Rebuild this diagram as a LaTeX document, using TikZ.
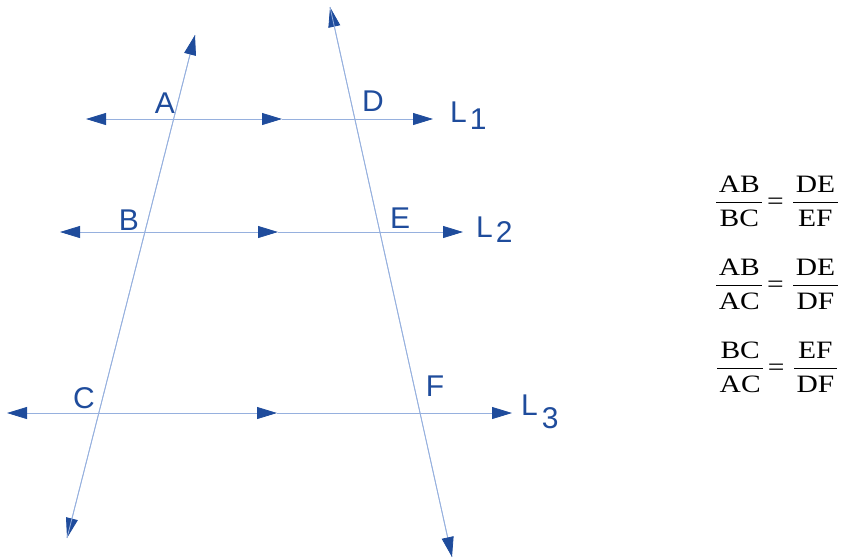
\RequirePackage{fix-cm}
\documentclass[tikz,border=0pt]{standalone}
\usepackage{amsmath}
\usepackage{fontspec}
\setmainfont{Liberation Sans}
\newfontfamily\eqfont{Liberation Serif}
\usetikzlibrary{arrows.meta}
\definecolor{linecol}{RGB}{150,176,222}
\definecolor{tipcol}{RGB}{31,76,156}
\newcommand{\ratio}[2]{\genfrac{}{}{1.1pt}{0}{\mkern1.5mu\text{#1}\mkern1.5mu}{\mkern1.5mu\text{#2}\mkern1.5mu}}

\begin{document}
\begin{tikzpicture}[
    x=1pt, y=-1pt,
    every node/.style={inner sep=0pt},
    line/.style={linecol, line width=0.8pt},
    tip/.style={-{Triangle[length=20pt,width=12pt,color=tipcol]}},
    both/.style={{Triangle[length=20pt,width=12pt,color=tipcol]}-{Triangle[length=20pt,width=12pt,color=tipcol]}},
    pt/.style={tipcol, font=\fontsize{30}{36}\selectfont},
    eqn/.style={anchor=base, font=\eqfont\fontsize{25}{30}\selectfont}
]
\useasboundingbox (0,0) rectangle (845,558);

% Parallel lines L1, L2, L3
\foreach \n/\y/\l/\m/\r in {1/119/86/282/433, 2/232/60/278/463, 3/413/7/277/512} {
    \coordinate (left\n) at (\l,\y);
    \coordinate (mid\n) at (\m,\y);
    \coordinate (right\n) at (\r,\y);
    \draw[line, both] (left\n) -- (mid\n);
    \draw[line, tip] (mid\n) -- (right\n);
}

% Transversals
\coordinate (t1bot) at (67,538);
\coordinate (t1top) at (195,35);
\coordinate (t2top) at (330,7);
\coordinate (t2bot) at (452,557);
\draw[line, tip] (t1top) -- (t1bot);
\draw[line, tip] (t1bot) -- (t1top);
\draw[line, tip] (t2bot) -- (t2top);
\draw[line, tip] (t2top) -- (t2bot);

% Point labels
\node[pt] (A) at (165,103) {A};
\node[pt] (D) at (373,101) {D};
\node[pt] (B) at (129,220) {B};
\node[pt] (E) at (400,218) {E};
\node[pt] (C) at (84,398) {C};
\node[pt] (F) at (435,386) {F};

% Line labels
\node[pt, anchor=base west] (L1) at (450,122) {L\hspace{3pt}\raisebox{-7pt}{1}};
\node[pt, anchor=base west] (L2) at (476,237) {L\hspace{3pt}\raisebox{-5pt}{2}};
\node[pt, anchor=base west] (L3) at (521,415) {L\hspace{4pt}\raisebox{-13pt}{3}};

% Ratios
\node[eqn] (eq1) at (777,209) {\scalebox{1.18}[1]{$\ratio{AB}{BC}\mkern-3mu\mathrel{\text{=}}\ratio{DE}{EF}$}};
\node[eqn] (eq2) at (777,292) {\scalebox{1.18}[1]{$\ratio{AB}{AC}\mkern-3mu\mathrel{\text{=}}\ratio{DE}{DF}$}};
\node[eqn] (eq3) at (777,375) {\scalebox{1.18}[1]{$\ratio{BC}{AC}\mkern-3mu\mathrel{\text{=}}\ratio{EF}{DF}$}};

\end{tikzpicture}
\end{document}
